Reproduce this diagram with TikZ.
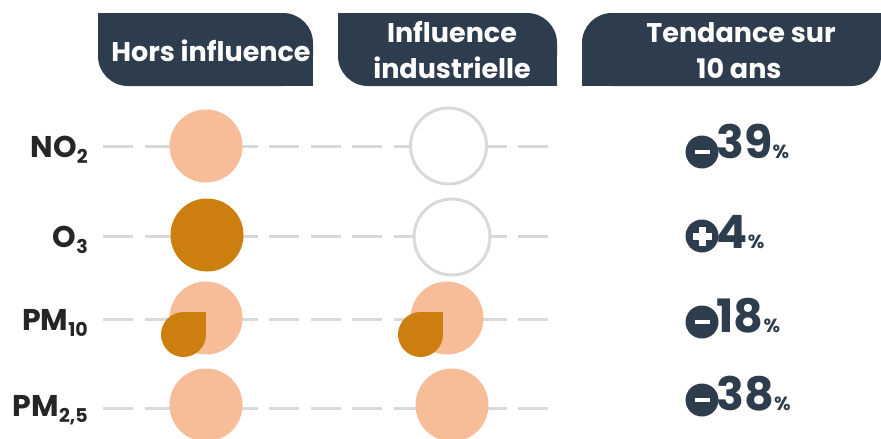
\documentclass[tikz,border=0pt]{standalone}
\usepackage{fontspec}
\setmainfont{Poppins}
\definecolor{navy}{HTML}{2E3D4E}
\definecolor{labtext}{HTML}{262626}
\definecolor{lightor}{HTML}{F6BD98}
\definecolor{darkor}{HTML}{CC7F0E}
\definecolor{linegray}{HTML}{D9D9D9}
\begin{document}
\begin{tikzpicture}[x=1pt,y=-1pt,
  hdr/.style={fill=navy, rounded corners=30pt, inner sep=0pt, minimum height=73pt},
  hdrtext/.style={text=white, font=\fontsize{27}{34}\selectfont\bfseries, inner sep=0pt, align=center},
  lbl/.style={text=labtext, font=\fontsize{30}{32}\selectfont\bfseries, inner sep=0pt, anchor=base east},
  dashl/.style={draw=linegray, line width=3pt, dash pattern=on 30pt off 11.5pt},
  fullc/.style={circle, inner sep=0pt, minimum size=73pt},
  emptyc/.style={circle, inner sep=0pt, minimum size=76pt, draw=linegray, line width=3pt, fill=white},
  icon/.style={circle, inner sep=0pt, minimum size=33pt, fill=navy},
  bar/.style={fill=white, inner sep=0pt},
  num/.style={text=navy, font=\fontsize{46}{46}\selectfont\bfseries, inner sep=0pt, anchor=base west},
  pct/.style={text=navy, font=\fontsize{19}{19}\selectfont\bfseries, inner sep=0pt, anchor=base west}
]
\useasboundingbox (0,0) rectangle (881,439);

% headers
\node[hdr, minimum width=215pt] (h1) at (205.5,49.5) {};
\fill[navy] (h1.north west) rectangle ++(30,30);
\fill[navy] (h1.south east) rectangle ++(-30,-30);
\node[hdr, minimum width=219pt] (h2) at (447.5,49.5) {};
\fill[navy] (h2.north west) rectangle ++(30,30);
\fill[navy] (h2.south east) rectangle ++(-30,-30);
\node[hdr, minimum width=299pt] (h3) at (731.5,49.5) {};
\fill[navy] (h3.north east) rectangle ++(-30,30);
\fill[navy] (h3.south west) rectangle ++(30,-30);

\node[hdrtext, anchor=base] (t1) at (211,61) {Hors influence};
\node[hdrtext, anchor=base] (t2a) at (452,42) {Influence};
\node[hdrtext, anchor=base] (t2b) at (452,78) {industrielle};
\node[hdrtext, anchor=base] (t3a) at (741,42) {Tendance sur};
\node[hdrtext, anchor=base] (t3b) at (739,78) {10 ans};

% row labels
\newcommand{\subx}[1]{\raisebox{-6.5pt}{\fontsize{19}{19}\selectfont #1}}
\node[lbl] (n1) at (88,157) {NO\subx{2}};
\node[lbl] (n2) at (88,247) {O\subx{3}};
\node[lbl] (n3) at (88,330) {PM\subx{10}};
\node[lbl] (n4) at (88,416) {PM\subx{2,5}};

% dashed lines
\coordinate (s1) at (103,146); \coordinate (e1) at (548,146);
\coordinate (s2) at (103,236); \coordinate (e2) at (548,236);
\coordinate (s3) at (103,319); \coordinate (e3) at (548,319);
\coordinate (s4) at (103,408); \coordinate (e4) at (548,408);
\draw[dashl] (s1) -- (e1);
\draw[dashl] (s2) -- (e2);
\draw[dashl] (s3) -- (e3);
\draw[dashl] (s4) -- (e4);

% circles column 1
\node[fullc, fill=lightor] (a1) at (206,146) {};
\node[fullc, fill=darkor] (a2) at (207,235) {};
\node[fullc, fill=lightor] (a3) at (206,318) {};
\node[fullc, fill=lightor] (a4) at (206,405) {};
% circles column 2
\node[emptyc] (b1) at (448.5,146) {};
\node[emptyc] (b2) at (452,237) {};
\node[fullc, fill=lightor] (b3) at (447,318) {};
\node[fullc, fill=lightor] (b4) at (452,405) {};

% drops
\fill[darkor] (183.5,334.5) circle[radius=22.5];
\fill[darkor] (183.5,312) rectangle (206,334.5);
\fill[darkor] (420.5,334.5) circle[radius=22.5];
\fill[darkor] (420.5,312) rectangle (443,334.5);

% trends
\node[icon] (m1) at (702,152) {};
\node[bar, minimum width=15pt, minimum height=4.6pt] (m1b) at (m1) {};
\node[num] (v1) at (716,158) {39};
\node[pct] (q1) at (v1.base east) {\%};

\node[icon] (m2) at (702,236) {};
\node[bar, minimum width=19pt, minimum height=7pt] (m2h) at (m2) {};
\node[bar, minimum width=7pt, minimum height=19pt] (m2v) at (m2) {};
\node[num] (v2) at (716,248) {4};
\node[pct] (q2) at (v2.base east) {\%};

\node[icon] (m3) at (702,322) {};
\node[bar, minimum width=15pt, minimum height=4.6pt] (m3b) at (m3) {};
\node[num] (v3) at (716,332) {18};
\node[pct] (q3) at (v3.base east) {\%};

\node[icon] (m4) at (702,400) {};
\node[bar, minimum width=15pt, minimum height=4.6pt] (m4b) at (m4) {};
\node[num] (v4) at (716,410) {38};
\node[pct] (q4) at (v4.base east) {\%};
\end{tikzpicture}
\end{document}
